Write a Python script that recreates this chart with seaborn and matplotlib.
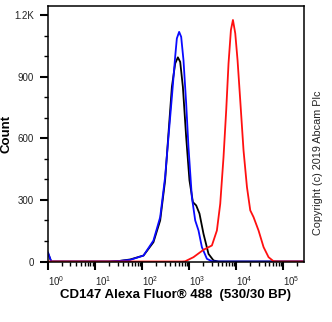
import matplotlib
matplotlib.use("Agg")
import matplotlib.pyplot as plt
import matplotlib.transforms as mtransforms
from matplotlib.ticker import FixedLocator, MultipleLocator, LogLocator, NullFormatter
import numpy as np
import pandas as pd
import seaborn as sns

# Histogram outlines: fluorescence intensity (channel value) and event count
black_intensity = [1, 1.17, 20, 34, 56, 107, 174, 242, 308, 363, 429, 504, 575, 644, 735, 863,
                   1014, 1199, 1409, 1656, 2014, 2576, 3289, 4198, 262144]
black_count = [40, 0, 0, 3, 10, 29, 94, 200, 395, 623, 850, 964, 994, 972, 850, 606,
               395, 289, 273, 233, 135, 37, 5, 0, 0]

blue_intensity = [1, 1.17, 20, 34, 56, 107, 174, 242, 308, 363, 429, 504, 547, 612, 676, 757,
                  863, 966, 1140, 1343, 1578, 1862, 2382, 3041, 3981, 262144]
blue_count = [45, 0, 0, 3, 8, 29, 102, 216, 411, 606, 801, 997, 1086, 1118, 1094, 980,
              770, 557, 314, 200, 151, 70, 13, 1, 0, 0]

red_intensity = [1, 708, 822, 1233, 2014, 3041, 3882, 4571, 5370, 6124, 6855, 7709, 8511,
                 9528, 10666, 12162, 14289, 16904, 19861, 23335, 29785, 38107, 48641, 62230,
                 79433, 262144]
red_count = [0, 0, 1, 21, 57, 78, 151, 281, 509, 737, 964, 1127, 1176,
             1111, 980, 785, 541, 362, 249, 216, 151, 70, 21, 1,
             0, 0]

samples = ["Unlabelled control", "Isotype control", "CD147"]
colors = ["#000000", "#0a0aff", "#ff1010"]

y_ticks = [0, 300, 600, 900, 1200]
y_tick_labels = ["0", "300", "600", "900", "1.2K"]
x_ticks = [1, 10, 100, 1000, 10000, 100000]
x_tick_labels = [r"$10^{0}$", r"$10^{1}$", r"$10^{2}$", r"$10^{3}$", r"$10^{4}$", r"$10^{5}$"]

df = pd.concat([
    pd.DataFrame({"intensity": black_intensity, "count": black_count, "sample": samples[0]}),
    pd.DataFrame({"intensity": blue_intensity, "count": blue_count, "sample": samples[1]}),
    pd.DataFrame({"intensity": red_intensity, "count": red_count, "sample": samples[2]}),
], ignore_index=True)

sns.set_theme(style="ticks")
plt.rcParams["font.family"] = ["Liberation Sans", "DejaVu Sans"]
plt.rcParams["mathtext.fontset"] = "custom"
plt.rcParams["mathtext.rm"] = "Liberation Sans"
plt.rcParams["mathtext.it"] = "Liberation Sans"

fig = plt.figure(figsize=(3.32, 3.22), dpi=100)
ax = fig.add_axes([48 / 332, 1 - 261.5 / 322, (304 - 48) / 332, (261.5 - 6) / 322])

sns.lineplot(data=df, x="intensity", y="count", hue="sample", hue_order=samples,
             palette=colors, estimator=None, sort=False, legend=False,
             linewidth=1.3, ax=ax)

ax.set_xscale("log")
ax.set_xlim(1, 10 ** 5.44)
ax.set_ylim(0, 1244)

ax.xaxis.set_major_locator(FixedLocator(x_ticks))
ax.set_xticklabels(x_tick_labels)
ax.xaxis.set_minor_locator(LogLocator(base=10, subs=np.arange(2, 10)))
ax.xaxis.set_minor_formatter(NullFormatter())
ax.yaxis.set_major_locator(FixedLocator(y_ticks))
ax.set_yticklabels(y_tick_labels)
ax.yaxis.set_minor_locator(MultipleLocator(100))

for s in ax.spines.values():
    s.set_visible(True)
    s.set_color("black")
    s.set_linewidth(1.1)

ax.tick_params(axis="both", which="major", length=6, width=1.5, color="black",
               labelsize=7, labelcolor="#222222")
ax.tick_params(axis="both", which="minor", length=3, width=1.0, color="black")
ax.tick_params(axis="x", which="major", pad=3.5)
ax.tick_params(axis="y", which="major", pad=4)

shift = mtransforms.ScaledTranslation(8 / 100, 0, fig.dpi_scale_trans)
for lab in ax.get_xticklabels():
    lab.set_transform(lab.get_transform() + shift)

ax.set_xlabel("CD147 Alexa Fluor® 488  (530/30 BP)", fontsize=9.5,
              fontweight="bold", labelpad=0, color="black")
ax.set_ylabel("Count", fontsize=9.5, fontweight="bold", labelpad=1, color="black")

fig.text(318 / 332, 1 - 163 / 322, "Copyright (c) 2019 Abcam Plc", rotation=90,
         fontsize=7.8, ha="center", va="center", color="#222222")

fig.savefig("out.png", dpi=100)
